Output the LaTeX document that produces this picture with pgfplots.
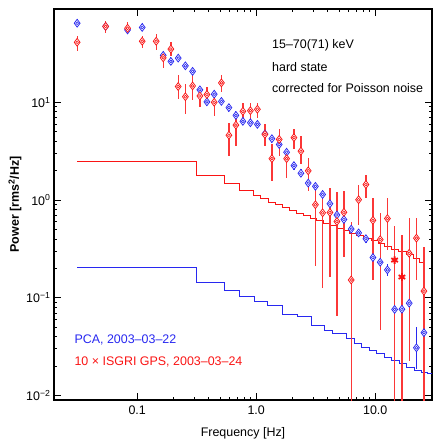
\documentclass[border=0pt]{standalone}
\usepackage{fontspec}
\setmainfont{Liberation Sans}
\usepackage{pgfplots}
\usepackage{pgfplotstable}
\pgfplotsset{compat=1.18}

\definecolor{pcablue}{RGB}{40,40,240}
\definecolor{isgrired}{RGB}{250,20,20}

% PCA power spectrum: frequency, power, lower and upper end of error bar
\pgfplotstableread{
f       p       lo      hi
0.0313  64.4    58.6    70.8
0.0543  59.7    54.3    65.6
0.0830  55.0    50.1    60.4
0.1102  58.3    53.1    64.1
0.1654  30.2    27.5    33.2
0.1919  26.2    23.8    28.8
0.2211  28.3    25.8    31.1
0.2541  23.6    21.5    25.9
0.2921  20.7    18.8    22.7
0.3363  13.4    12.2    14.7
0.3852  10.1    9.19    11.1
0.4437  12.1    11.0    13.3
0.5101  10.2    9.28    11.2
0.5897  8.82    8.03    9.69
0.6752  7.35    6.69    8.08
0.7730  6.38    5.81    7.01
0.8939  6.18    5.62    6.79
1.0235  5.94    5.41    6.53
1.1834  4.75    4.32    5.22
1.3546  4.24    3.86    4.66
1.5606  3.70    3.37    4.07
1.8012  3.08    2.80    3.38
2.0746  2.25    2.05    2.47
2.3748  1.88    1.71    2.07
2.7353  1.49    1.36    1.64
3.1450  1.38    1.26    1.52
3.6141  1.14    1.04    1.25
4.1628  0.916   0.834   1.01
4.7675  0.703   0.640   0.773
5.4575  0.632   0.575   0.695
6.2838  0.504   0.459   0.554
7.2527  0.461   0.420   0.507
8.3524  0.402   0.366   0.442
9.5652  0.258   0.229   0.291
11.015  0.231   0.205   0.260
12.663  0.193   0.169   0.220
14.555  0.0760  0.0637  0.0907
16.765  0.0764  0.0640  0.0912
19.305  0.0880  0.0781  0.0991
22.198  0.0308  0.0187  0.0501
25.66   0.0440  0.0249  0.0613
}\pca

% 10 x ISGRI power spectrum
\pgfplotstableread{
f       p       lo      hi
0.0313  41.1    33.7    48.0
0.0543  59.7    50.8    68.5
0.0830  57.2    50.0    65.9
0.1102  42.1    35.6    48.0
0.1444  42.1    34.5    50.0
0.1654  28.5    22.4    32.4
0.1919  35.0    29.9    41.7
0.2211  14.5    10.9    18.9
0.2541  11.4    7.53    15.3
0.2921  14.7    10.5    18.9
0.3363  11.6    8.89    13.6
0.3852  12.0    9.93    14.2
0.4437  10.0    7.23    12.1
0.5101  15.8    12.6    19.1
0.5897  4.60    2.81    6.18
0.6752  5.84    3.56    7.84
0.7730  8.08    6.43    9.93
0.8939  8.21    6.43    9.93
1.0235  8.48    6.96    9.93
1.1834  4.69    3.56    5.94
1.3546  2.65    1.55    3.70
1.5606  4.17    2.81    5.28
1.8012  2.65    1.68    3.42
2.0746  4.35    3.29    5.28
2.3748  3.16    2.31    4.47
2.7353  1.99    1.23    2.70
3.1450  0.895   0.211   1.31
3.6141  0.741   0.125   1.28
4.1628  0.746   0.164   1.33
4.7675  0.603   0.0647  1.22
5.4575  0.749   0.263   1.23
6.2838  0.152   0.001   0.598
7.2527  1.007   0.557   1.44
8.3524  1.44    1.048   1.82
9.5652  0.620   0.152   1.048
11.015  0.394   0.0465  0.735
12.663  0.647   0.308   1.048
19.305  0.285   0.0228  0.653
22.198  0.407   0.152   0.653
25.66   0.117   0.001   0.334
}\isgri

% ISGRI bins drawn with a star
\pgfplotstableread{
f       p       lo      hi
14.555  0.243   0.001   0.536
16.765  0.163   0.001   0.440
}\isgrix

% noise levels (step functions)
\pgfplotstableread{
f       p
0.0313  2.493
0.3156  1.777
0.5458  1.460
0.7195  1.246
0.9565  1.115
1.095   1.031
1.261   0.954
1.450   0.895
1.667   0.839
1.920   0.776
2.185   0.735
2.517   0.694
2.883   0.653
3.218   0.613
3.656   0.580
4.163   0.548
4.739   0.516
5.384   0.487
6.130   0.458
6.978   0.430
7.929   0.407
9.326   0.382
10.60   0.356
12.06   0.334
13.73   0.3135
15.61   0.296
18.36   0.274
20.86   0.2534
23.75   0.2284
25.81   0.2284
}\isgristep

\pgfplotstableread{
f       p
0.0313  0.2029
0.3156  0.1436
0.5426  0.1197
0.7252  0.1021
0.9696  0.0907
1.254   0.0839
1.676   0.0678
2.241   0.0636
2.899   0.0523
3.757   0.0465
4.411   0.0430
5.706   0.0382
6.714   0.0339
7.627   0.0313
8.973   0.0289
10.19   0.0268
11.99   0.0247
13.63   0.0228
16.03   0.0211
18.22   0.0195
21.43   0.0180
24.36   0.0173
27.74   0.0167
32.37   0.0167
}\pcastep

\begin{document}
\begin{tikzpicture}
\begin{axis}[
    scale only axis,
    width=378bp, height=391bp,
    xmode=log, ymode=log,
    xmin=0.02, xmax=30,
    ymin=0.009, ymax=90,
    xtick={0.1,1,10},
    xticklabels={0.1,1.0,10.0},
    ytick={0.01,0.1,1,10},
    yticklabels={10\textsuperscript{−2},10\textsuperscript{−1},10\textsuperscript{0},10\textsuperscript{1}},
    tick align=inside,
    major tick length=7.5bp,
    minor tick length=3.5bp,
    axis line style={line width=1.4pt},
    tick style={line width=0.8pt, black},
    tick label style={font=\fontsize{12.5}{14}\selectfont},
    xticklabel style={yshift=-2bp},
    xlabel={Frequency [Hz]},
    ylabel={\bfseries Power [rms\textsuperscript{2}/Hz]},
    label style={font=\fontsize{12.5}{15}\selectfont},
    xlabel style={at={(axis description cs:0.5,-0.085)}, anchor=center},
    ylabel style={at={(axis description cs:-0.103,0.5)}, anchor=center},
    error bars/error mark=none,
]
% noise levels
\addplot[const plot, pcablue, line width=1pt] table[x=f, y=p] {\pcastep};
\addplot[const plot, isgrired, line width=1pt] table[x=f, y=p] {\isgristep};

% PCA
\addplot[only marks, mark=diamond*, mark size=3.9bp, pcablue,
    mark options={fill=white, line width=0.75pt},
    error bars/.cd, y dir=both, y explicit,
    error bar style={line width=1.2pt, pcablue}]
    table[x=f, y=p, y error plus expr=\thisrow{hi}-\thisrow{p},
          y error minus expr=\thisrow{p}-\thisrow{lo}] {\pca};
\addplot[only marks, mark=o, mark size=1.4bp, pcablue, mark options={line width=0.6pt}]
    table[x=f, y=p] {\pca};

% ISGRI
\addplot[only marks, mark=diamond*, mark size=3.9bp, isgrired,
    mark options={fill=white, line width=0.75pt},
    error bars/.cd, y dir=both, y explicit,
    error bar style={line width=1.3pt, isgrired!85!white}]
    table[x=f, y=p, y error plus expr=\thisrow{hi}-\thisrow{p},
          y error minus expr=\thisrow{p}-\thisrow{lo}] {\isgri};
\addplot[only marks, mark=o, mark size=1.4bp, isgrired, mark options={line width=0.6pt}]
    table[x=f, y=p] {\isgri};
\addplot[only marks, mark=asterisk, mark size=3.8bp, isgrired,
    mark options={line width=1.8pt},
    error bars/.cd, y dir=both, y explicit,
    error bar style={line width=1.3pt, isgrired!85!white}]
    table[x=f, y=p, y error plus expr=\thisrow{hi}-\thisrow{p},
          y error minus expr=\thisrow{p}-\thisrow{lo}] {\isgrix};

\node[anchor=base west, font=\fontsize{12.5}{15}\selectfont] at (axis description cs:0.568,0.8977) {15–70(71) keV};
\node[anchor=base west, font=\fontsize{12.5}{15}\selectfont] at (axis description cs:0.568,0.8414) {hard state};
\node[anchor=base west, font=\fontsize{12.5}{15}\selectfont] at (axis description cs:0.568,0.7877) {corrected for Poisson noise};

\node[anchor=base west, font=\fontsize{12.5}{15}\selectfont, text=pcablue] at (axis description cs:0.045,0.145) {PCA, 2003–03–22};
\node[anchor=base west, font=\fontsize{12.5}{15}\selectfont, text=isgrired] at (axis description cs:0.045,0.0895) {10 × ISGRI GPS, 2003–03–24};

\coordinate (ll) at (rel axis cs:0,0);
\coordinate (ur) at (rel axis cs:1,1);
\end{axis}
\path (ll) ++(-54bp,-44bp) coordinate (a);
\path (ur) ++(5bp,9bp) coordinate (b);
\pgfresetboundingbox
\path[use as bounding box] (a) rectangle (b);
\end{tikzpicture}
\end{document}
